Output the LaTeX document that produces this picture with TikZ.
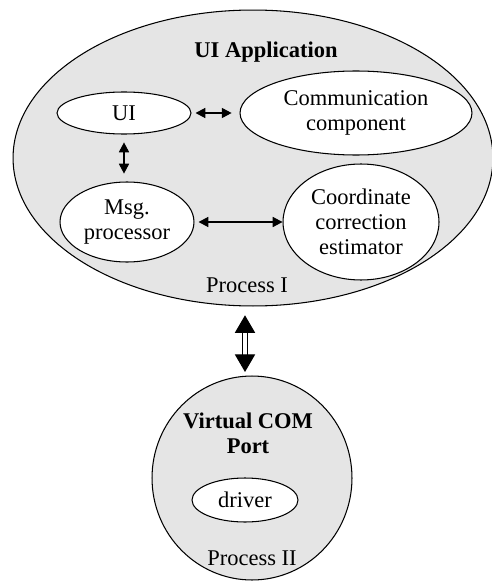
\documentclass[tikz,border=0pt]{standalone}
\usepackage{fontspec}
\setmainfont{Liberation Serif}
\usetikzlibrary{shapes,arrows.meta}

\begin{document}
\begin{tikzpicture}[x=0.02cm,y=-0.02cm,line width=0.6pt,
	>={Triangle[width=5.8pt,length=5.6pt]}]
	\fontsize{12.8pt}{14.2pt}\selectfont
	\def \rowone{113}
	\def \rowtwo{222}
	\def \porttop{433}

	\tikzstyle{proc}=[ellipse,draw=black,fill=gray!20,inner sep=0pt]
	\tikzstyle{comp}=[ellipse,draw=black,fill=white,inner sep=0pt,align=center]
	\tikzstyle{title}=[font=\bfseries,align=center]
	\tikzstyle{link}=[<->,shorten >=1pt,shorten <=1pt]
	\tikzstyle{ipc}=[double,double distance=2.4pt,
		{Triangle[width=11.5pt,length=10pt]}-{Triangle[width=11.5pt,length=10pt]}]

	\useasboundingbox (0,0) rectangle (492,588);

	% the two processes
	\node[proc,minimum width=9.6cm,minimum height=5.92cm]	(app)	at (253,158)	{};
	\node[proc,minimum width=4.0cm,minimum height=4.08cm]	(port)	at (252,478)	{};

	\node[title]	(apptitle)	at (266,52)	{UI Application};
	\node		(procone)	at (247,285)	{Process I};
	\node[title]	(porttitle)	at (248,\porttop)	{Virtual COM\\Port};
	\node		(proctwo)	at (252,558)	{Process II};

	% components of the application
	\node[comp,minimum width=2.68cm,minimum height=0.84cm]	(ui)	at (124,\rowone)	{UI};
	\node[comp,minimum width=4.64cm,minimum height=1.68cm]	(comm)	at (356,\rowone)	{Communication\\component};
	\node[comp,minimum width=2.68cm,minimum height=1.60cm]	(msg)	at (127,\rowtwo)	{Msg.\\processor};
	\node[comp,minimum width=3.12cm,minimum height=2.32cm]	(coord)	at (361,\rowtwo)	{Coordinate\\correction\\estimator};
	\node[comp,minimum width=2.12cm,minimum height=0.88cm]	(drv)	at (245,500)	{driver};

	\draw[link,shorten >=4.5pt,shorten <=2.3pt]	(ui)	--	(comm);
	\draw[link,shorten >=4.5pt,shorten <=4.5pt]	(ui)	--	(ui |- msg.north);
	\draw[link,shorten <=2.3pt,shorten >=0pt]	(msg)	--	(coord);
	\draw[ipc,shorten >=2pt,shorten <=5pt]	(app.south -| drv)	--	(port.north -| drv);
\end{tikzpicture}
\end{document}
